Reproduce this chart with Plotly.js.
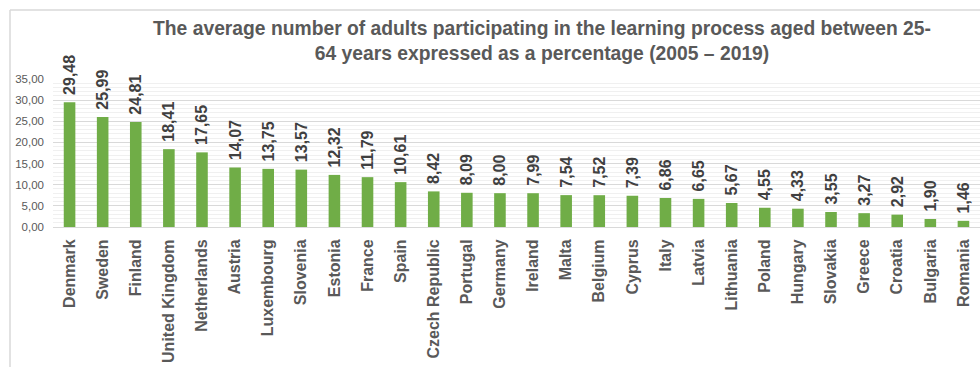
<!DOCTYPE html>
<html>
<head>
<meta charset="utf-8">
<script src="https://cdn.plot.ly/plotly-3.0.1.min.js"></script>
<style>
html,body{margin:0;padding:0;background:#fff;}
#chart{width:980px;height:367px;}
</style>
</head>
<body>
<div id="chart"></div>
<script>
const countries = ["Denmark","Sweden","Finland","United Kingdom","Netherlands","Austria","Luxembourg","Slovenia","Estonia","France","Spain","Czech Republic","Portugal","Germany","Ireland","Malta","Belgium","Cyprus","Italy","Latvia","Lithuania","Poland","Hungary","Slovakia","Greece","Croatia","Bulgaria","Romania"];
const values = [29.48,25.99,24.81,18.41,17.65,14.07,13.75,13.57,12.32,11.79,10.61,8.42,8.09,8.00,7.99,7.54,7.52,7.39,6.86,6.65,5.67,4.55,4.33,3.55,3.27,2.92,1.90,1.46];
const yTickVals = [0,5,10,15,20,25,30,35];
const yTickText = ["0,00","5,00","10,00","15,00","20,00","25,00","30,00","35,00"];
const titleText = "The average number of adults participating in the learning process aged between 25-<br>64 years expressed as a percentage (2005 – 2019)";

const labels = values.map(v => "\u00a0" + v.toFixed(2).replace(".", ","));

const W = 980, H = 367, ml = 53, mr = 0, mt = 79, mb = 140;
const pw = W - ml - mr, ph = H - mt - mb;
const px = x => (x - ml) / pw;
const py = y => 1 - (y - mt) / ph;

const trace = {
  type: "bar",
  x: countries,
  y: values,
  text: labels,
  textposition: "outside",
  textangle: -90,
  constraintext: "none",
  cliponaxis: false,
  textfont: {family: "Liberation Sans, Arial, sans-serif", size: 16, color: "#404040", weight: "bold"},
  marker: {color: "#70ad47"},
  hoverinfo: "x+y"
};

const layout = {
  width: W, height: H,
  margin: {l: ml, r: mr, t: mt, b: mb, pad: 0},
  paper_bgcolor: "#ffffff",
  plot_bgcolor: "#ffffff",
  bargap: 0.65,
  showlegend: false,
  title: {
    text: titleText,
    font: {family: "Liberation Sans, Arial, sans-serif", size: 19.3, color: "#595959", weight: "bold"},
    xref: "container", yref: "container",
    x: 542 / W, xanchor: "center",
    y: 1 - 35 / H, yanchor: "middle"
  },
  xaxis: {
    type: "category",
    tickangle: -90,
    tickfont: {family: "Liberation Sans, Arial, sans-serif", size: 16, color: "#595959", weight: "bold"},
    ticklabelstandoff: 5,
    showgrid: false,
    showline: true,
    linecolor: "#d9d9d9",
    linewidth: 1,
    ticks: "",
    fixedrange: true
  },
  yaxis: {
    range: [0, 35],
    tickvals: yTickVals,
    ticktext: yTickText,
    tickfont: {family: "Liberation Sans, Arial, sans-serif", size: 11.5, color: "#595959"},
    ticklabelstandoff: 8,
    showgrid: true,
    gridcolor: "#d9d9d9",
    gridwidth: 1,
    minor: {dtick: 1, showgrid: true, gridcolor: "#f0f0f0", gridwidth: 1, ticks: ""},
    zeroline: false,
    showline: false,
    ticks: "",
    ticklen: 0,
    fixedrange: true
  },
  shapes: [
    {type: "line", xref: "paper", yref: "paper", x0: px(10), x1: px(10), y0: py(10), y1: py(367), line: {color: "#d9d9d9", width: 1.5}},
    {type: "line", xref: "paper", yref: "paper", x0: px(10), x1: px(980), y0: py(10), y1: py(10), line: {color: "#d9d9d9", width: 1.5}}
  ]
};

Plotly.newPlot("chart", [trace], layout, {displayModeBar: false, staticPlot: true});
</script>
</body>
</html>
